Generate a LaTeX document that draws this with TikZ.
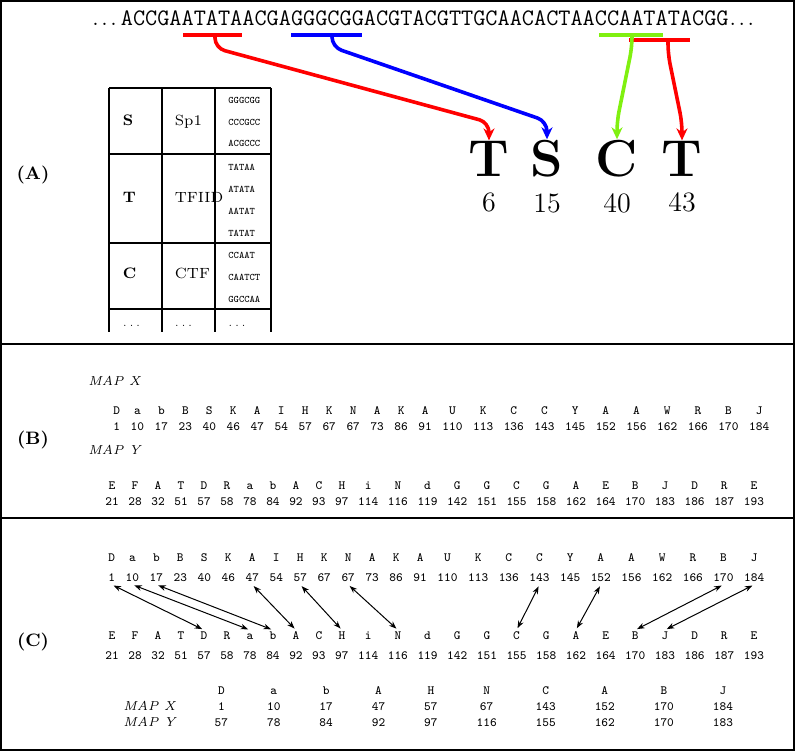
\documentclass[tikz,border=0pt]{standalone}
\usepackage{fontspec}
\usepackage{tikz}
\usetikzlibrary{arrows.meta, positioning, matrix, calc}
\definecolor{sitegreen}{RGB}{128,240,16}
\newcommand{\spaceddots}{.\kern1.3pt.\kern1.3pt.}

\begin{document}
\begin{tikzpicture}[
  x=0.5pt, y=-0.5pt,
  frame/.style={line width=1pt},
  rule/.style={line width=1.1pt},
  panel/.style={font=\fontsize{9}{11}\selectfont\bfseries, inner sep=0pt},
  seq/.style={font=\fontsize{11.8}{14}\selectfont\ttfamily, inner sep=0pt, anchor=base west},
  site/.style={line width=2pt},
  link/.style={line width=1.8pt, rounded corners=5pt, -{Stealth[length=6pt,width=5.5pt]}},
  big/.style={font=\fontsize{26}{30}\selectfont\bfseries, inner sep=0pt, anchor=base},
  posnum/.style={font=\fontsize{14}{16}\selectfont, inner sep=0pt},
  grid/.style={line width=0.9pt},
  tfkey/.style={font=\fontsize{7.6}{9}\selectfont\bfseries, inner sep=0pt, anchor=base west},
  tfname/.style={font=\fontsize{7.4}{9}\selectfont, inner sep=0pt, anchor=base west},
  motif/.style={font=\fontsize{5}{6}\selectfont\ttfamily, inner sep=0pt, anchor=base west},
  maplabel/.style={font=\fontsize{6.5}{8}\selectfont\itshape, inner sep=0pt, anchor=base west},
  rowlabel/.style={font=\fontsize{6.5}{8}\selectfont\itshape, anchor=base east},
  maprow/.style={matrix of nodes, inner sep=0pt, anchor=north west,
    nodes={font=\fontsize{6.3}{7}\selectfont\ttfamily, inner sep=0pt, anchor=base,
      text height=4.6pt, text depth=1.3pt}},
  match/.style={line width=0.5pt, {Stealth[length=3.8pt,width=2.8pt]}-{Stealth[length=3.8pt,width=2.8pt]},
    shorten <=1pt, shorten >=1pt}
]
  \useasboundingbox (0,0) rectangle (797,752);
  \draw[frame] (1,1) rectangle (794,750);
  \draw[rule] (0,344) -- (794,344);
  \draw[rule] (0,518) -- (794,518);

  \node[panel] (pa) at (33,175) {(A)};
  \node[panel] (pb) at (33,440) {(B)};
  \node[panel] (pc) at (33,642) {(C)};

  % sequence with the binding sites
  \node[seq] (dna) at (92,25)
    {{\rmfamily\spaceddots\kern2pt}ACCGAATATAACGAGGGCGGACGTACGTTGCAACACTAACCAATATACGG{\rmfamily\kern0.5pt\spaceddots}};
  \draw[site, red]       (183,35) -- (242,35);
  \draw[site, blue]      (291,35) -- (362,35);
  \draw[site, red]       (629,40) -- (690,40);
  \draw[site, sitegreen] (599,35) -- (663,35);
  \coordinate (tata)  at (215,35);
  \coordinate (gcbox) at (332,35);
  \coordinate (ccaat) at (632,35);
  \coordinate (tata2) at (668,40);

  \node[big] (bT)  at (489,176) {T};
  \node[big] (bS)  at (547,176) {S};
  \node[big] (bC)  at (617,176) {C};
  \node[big] (bT2) at (682,176) {T};
  \node[posnum, below=8pt of bT]  (nT)  {6};
  \node[posnum, below=8pt of bS]  (nS)  {15};
  \node[posnum, below=8pt of bC]  (nC)  {40};
  \node[posnum, below=8pt of bT2] (nT2) {43};

  \draw[link, red]       (tata)  -- ++(0,13) -- ($(bT.north)+(0,-18)$)  -- (bT.north);
  \draw[link, blue]      (gcbox) -- ++(0,12) -- ($(bS.north)+(0,-18)$)  -- (bS.north);
  \draw[link, red]       (tata2) -- ++(0,14) -- ($(bT2.north)+(0,-18)$) -- (bT2.north);
  \draw[link, sitegreen] (ccaat) -- ++(0,12) -- ($(bC.north)+(0,-18)$)  -- (bC.north);

  % factor table
  \foreach \y in {88,154,243,309}
    \draw[grid] (109,\y) -- (271,\y);
  \foreach \x in {109,162,215,271}
    \draw[grid] (\x,88) -- (\x,332);

  \node[tfkey]  (kS) at (122.5,125) {S};
  \node[tfname] (fS) at (174.5,125) {Sp1};
  \node[motif] (mS1) at (228,103) {GGGCGG};
  \node[motif] (mS2) at (228,125) {CCCGCC};
  \node[motif] (mS3) at (228,146) {ACGCCC};

  \node[tfkey]  (kT) at (122.5,202) {T};
  \node[tfname] (fT) at (174.5,202) {TFIID};
  \node[motif] (mT1) at (228,170) {TATAA};
  \node[motif] (mT2) at (228,192) {ATATA};
  \node[motif] (mT3) at (228,214) {AATAT};
  \node[motif] (mT4) at (228,236) {TATAT};

  \node[tfkey]  (kC) at (122.5,278) {C};
  \node[tfname] (fC) at (174.5,278) {CTF};
  \node[motif] (mC1) at (228,258) {CCAAT};
  \node[motif] (mC2) at (228,280) {CAATCT};
  \node[motif] (mC3) at (228,302) {GGCCAA};

  \node[motif, font=\fontsize{5}{6}\selectfont] (dk) at (122.5,326) {\spaceddots};
  \node[motif, font=\fontsize{5}{6}\selectfont] (df) at (174.5,326) {\spaceddots};
  \node[motif, font=\fontsize{5}{6}\selectfont] (dm) at (228,326)   {\spaceddots};

  % (B) the two maps
  \node[maplabel] (bxl) at (88,385.5) {MAP X};
  \node[maplabel] (byl) at (88,454.5) {MAP Y};

  \matrix (bx) [maprow, column sep=5.3pt, row sep={8pt,between origins}] at (113,405) {
    D & a & b & B & S & K & A & I & H & K & N & A & K & A & U & K & C & C & Y & A & A & W & R & B & J \\
    1 & 10 & 17 & 23 & 40 & 46 & 47 & 54 & 57 & 67 & 67 & 73 & 86 & 91 & 110 & 113 & 136 & 143 & 145 & 152 & 156 & 162 & 166 & 170 & 184 \\
  };
  \matrix (by) [maprow, column sep=4.8pt, row sep={8pt,between origins}] at (105,480) {
    E & F & A & T & D & R & a & b & A & C & H & i & N & d & G & G & C & G & A & E & B & J & D & R & E \\
    21 & 28 & 32 & 51 & 57 & 58 & 78 & 84 & 92 & 93 & 97 & 114 & 116 & 119 & 142 & 151 & 155 & 158 & 162 & 164 & 170 & 183 & 186 & 187 & 193 \\
  };

  % (C) matching
  \matrix (cx) [maprow, column sep=5.3pt, row sep={10pt,between origins}] at (108,552) {
    D & a & b & B & S & K & A & I & H & K & N & A & K & A & U & K & C & C & Y & A & A & W & R & B & J \\
    1 & 10 & 17 & 23 & 40 & 46 & 47 & 54 & 57 & 67 & 67 & 73 & 86 & 91 & 110 & 113 & 136 & 143 & 145 & 152 & 156 & 162 & 166 & 170 & 184 \\
  };
  \matrix (cy) [maprow, column sep=4.8pt, row sep={10pt,between origins}] at (105,630) {
    E & F & A & T & D & R & a & b & A & C & H & i & N & d & G & G & C & G & A & E & B & J & D & R & E \\
    21 & 28 & 32 & 51 & 57 & 58 & 78 & 84 & 92 & 93 & 97 & 114 & 116 & 119 & 142 & 151 & 155 & 158 & 162 & 164 & 170 & 183 & 186 & 187 & 193 \\
  };

  \foreach \i/\j in {1/5,2/7,3/8,7/9,9/11,11/13,18/17,20/19,24/21,25/22}
    \draw[match] (cx-2-\i.south) -- (cy-1-\j.north);

  \matrix (res) [maprow, column sep=19.5pt, row sep={8pt,between origins}] at (123,685) {
    & D & a & b & A & H & N & C & A & B & J \\
    |[rowlabel]| MAP X & 1 & 10 & 17 & 47 & 57 & 67 & 143 & 152 & 170 & 184 \\
    |[rowlabel]| MAP Y & 57 & 78 & 84 & 92 & 97 & 116 & 155 & 162 & 170 & 183 \\
  };
\end{tikzpicture}
\end{document}
